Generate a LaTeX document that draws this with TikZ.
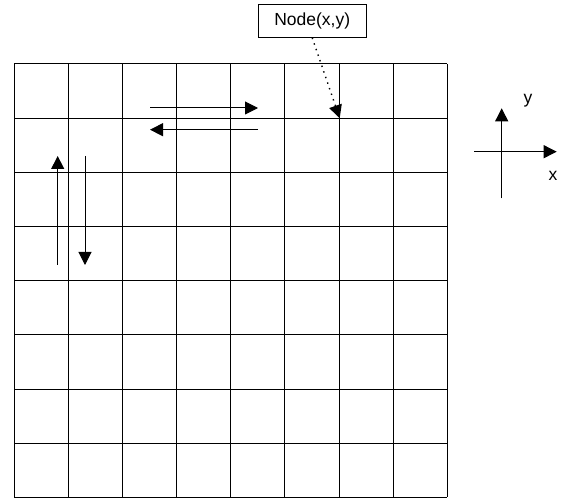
\documentclass[tikz,border=0pt]{standalone}
\usepackage{fontspec}
\setmainfont{Liberation Sans}
\usetikzlibrary{arrows.meta}
\tikzset{
  gridline/.style={line width=1pt, black},
  arr/.style={line width=1pt, -{Triangle[length=13pt,width=13pt]}},
  lbl/.style={font=\fontsize{17.5}{20}\selectfont, inner sep=0pt},
  boxnode/.style={draw, line width=1pt, minimum width=108pt, minimum height=32.5pt, font=\fontsize{17.5}{20}\selectfont, inner sep=0pt}
}
\begin{document}
\begin{tikzpicture}[x=1pt,y=-1pt]
\useasboundingbox (0,0) rectangle (566,500);
% grid
\foreach \i in {0,...,8} {
  \draw[gridline] ({14+\i*54.17},64) -- ({14+\i*54.17},497.3);
  \draw[gridline] (14,{64+\i*54.17}) -- (447.3,{64+\i*54.17});
}
% label box
\node[boxnode] (lab) at (312.2,21) {Node(x,y)};
\coordinate (target) at (339.7,118.2);
\draw[line width=1.4pt, dash pattern=on 1.4pt off 4.5pt, -{Triangle[length=13pt,width=13pt]}] (lab.south) -- (target);
% horizontal arrows
\coordinate (h1s) at (150,108);
\coordinate (h1e) at (258,108);
\coordinate (h2s) at (258,129.7);
\coordinate (h2e) at (150,129.7);
\draw[arr] (h1s) -- (h1e);
\draw[arr] (h2s) -- (h2e);
% vertical arrows
\coordinate (v1s) at (57.7,265);
\coordinate (v1e) at (57.7,156);
\coordinate (v2s) at (85,156);
\coordinate (v2e) at (85,265);
\draw[arr] (v1s) -- (v1e);
\draw[arr] (v2s) -- (v2e);
% axes
\coordinate (ya) at (501.7,198.3);
\coordinate (yb) at (501.7,108.3);
\coordinate (xa) at (474,151.7);
\coordinate (xb) at (556.7,151.7);
\draw[arr] (ya) -- (yb);
\draw[arr] (xa) -- (xb);
\node[lbl] (ylab) at (528,101) {y};
\node[lbl] (xlab) at (553,176) {x};
\end{tikzpicture}
\end{document}
